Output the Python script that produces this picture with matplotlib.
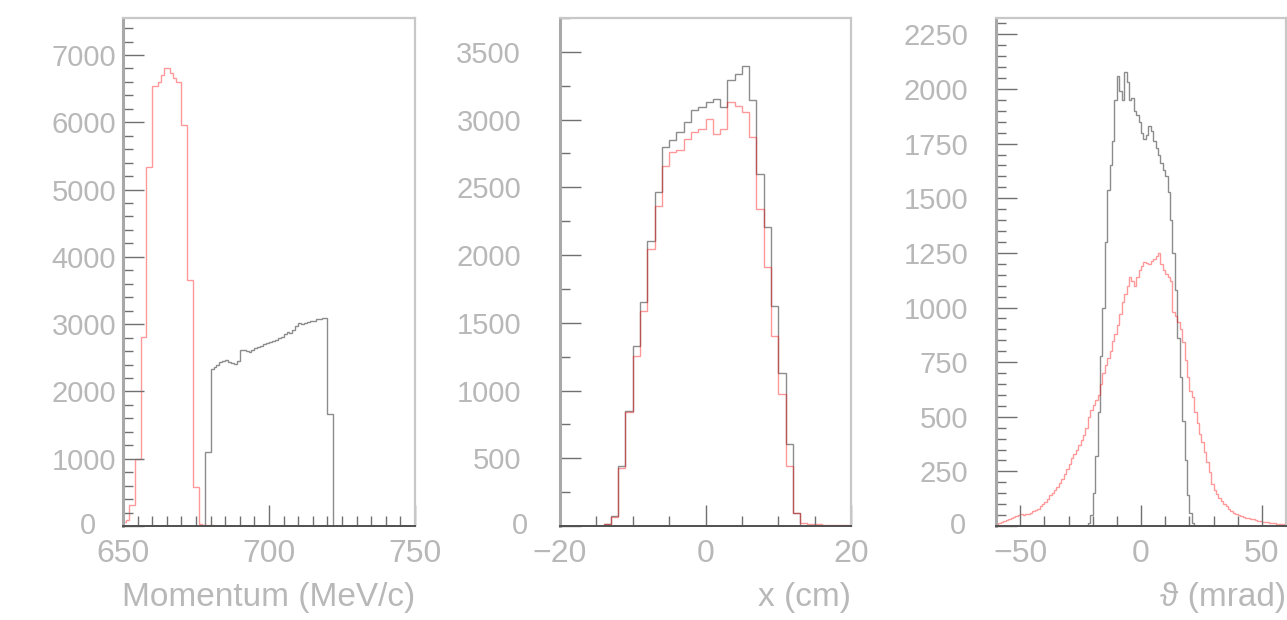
import numpy as np
import matplotlib
matplotlib.use("Agg")
import matplotlib.pyplot as plt
from matplotlib.ticker import MultipleLocator, FuncFormatter
from matplotlib.transforms import offset_copy

plt.rcParams["font.family"] = ["Liberation Sans", "DejaVu Sans"]

# momentum (MeV/c), 1 MeV bins 650..750
mom_edges = np.arange(650, 751, 1)
mom_red = ([60, 90, 310, 310, 990, 990, 2810, 2810, 5340, 5340,
            6540, 6540, 6600, 6700, 6810, 6800, 6730, 6660, 6600, 6600,
            5960, 5960, 3650, 3650, 580, 580,
            25, 15, 10, 10, 8, 6, 5, 4] + [0] * 66)
mom_black = ([0] * 28 + [1100, 1100,
             2340, 2360, 2390, 2430, 2450, 2470, 2430, 2420, 2410, 2450,
             2610, 2610, 2600, 2590, 2620, 2640, 2660, 2680, 2700, 2720,
             2730, 2750, 2770, 2790, 2810, 2850, 2890, 2870, 2920, 2970,
             3010, 3000, 3010, 3030, 3050, 3040, 3070, 3080, 3090, 3090,
             1670, 1670] + [0] * 28)

# x position (cm), 1 cm bins -20..20
x_edges = np.arange(-20, 21, 1)
x_black = ([0] * 6 + [15, 72, 440, 848, 1329, 1650, 2106, 2464, 2797, 2846,
           2908, 2981, 3068, 3090, 3129, 3154, 3092, 3289, 3339, 3396,
           3141, 2599, 2205, 1625, 1132, 602, 97] + [0] * 7)
x_red = ([0] * 6 + [15, 70, 430, 840, 1255, 1588, 2044, 2365, 2661, 2760,
         2772, 2858, 2908, 2930, 3001, 2895, 2932, 3129, 3104, 3055,
         2870, 2340, 1909, 1403, 972, 442, 97,
         25, 15, 12, 10, 8, 6, 5])

# theta (mrad), 1 mrad bins -60..60
th_edges = np.arange(-60, 61, 1)
th_black = ([0] * 38 + [15, 50, 150, 320, 520, 780, 1000, 1300, 1540, 1650,
            1760, 1950, 2060, 1990, 1950, 2080, 2030, 1950, 1960, 1900,
            1880, 1850, 1800, 1770, 1790, 1830, 1810, 1760, 1730, 1700,
            1660, 1630, 1600, 1530, 1400, 1250, 1080, 860, 680, 480,
            300, 140, 60, 15] + [0] * 38)
th_red = [10, 15, 20, 25, 28, 30, 35, 40, 45, 50,
          55, 52, 55, 56, 60, 68, 75, 80, 90, 100,
          112, 125, 140, 150, 165, 178, 195, 215, 240, 260,
          285, 310, 330, 350, 370, 395, 415, 450, 500, 530,
          555, 575, 600, 650, 700, 735, 770, 800, 845, 880,
          920, 970, 1025, 1060, 1100, 1140, 1120, 1100, 1140, 1170,
          1190, 1210, 1205, 1200, 1215, 1220, 1235, 1250, 1200, 1170,
          1155, 1140, 1120, 980, 960, 935, 900, 840, 760, 680,
          620, 590, 520, 470, 420, 385, 340, 295, 245, 190,
          165, 145, 130, 115, 100, 90, 80, 70, 60, 55,
          50, 45, 40, 38, 35, 32, 30, 27, 24, 22,
          20, 18, 17, 15, 14, 12, 10, 9, 8, 7]

TXT = "#b8b8b8"
RED = (1.0, 0.0, 0.0, 0.4)
BLK = (0.0, 0.0, 0.0, 0.45)


def style_axes(ax, xlim, ylim, xmaj, xmin, ymaj, ymin, label, ypad, zero_dx):
    ax.set_xlim(*xlim)
    ax.set_ylim(*ylim)
    ax.xaxis.set_major_locator(MultipleLocator(xmaj))
    ax.xaxis.set_minor_locator(MultipleLocator(xmin))
    ax.yaxis.set_major_locator(MultipleLocator(ymaj))
    ax.yaxis.set_minor_locator(MultipleLocator(ymin))
    # the y "0" is drawn by hand, shifted left so it clears the x labels
    ax.yaxis.set_major_formatter(
        FuncFormatter(lambda v, p: "" if v == 0 else "%d" % v))
    ax.tick_params(which="both", direction="in", top=False, right=False,
                   color="#707070", width=1.0, labelcolor=TXT)
    ax.tick_params(which="major", length=15)
    ax.tick_params(which="minor", length=7.5)
    ax.tick_params(axis="y", pad=ypad, labelsize=21)
    ax.tick_params(axis="x", pad=9, labelsize=23)
    ax.spines["left"].set_color("#a8a8a8")
    ax.spines["left"].set_linewidth(2.2)
    ax.spines["bottom"].set_color("#505050")
    ax.spines["bottom"].set_linewidth(1.4)
    for s in ("top", "right"):
        ax.spines[s].set_color("#c8c8c8")
        ax.spines[s].set_linewidth(1.6)
    tr = offset_copy(ax.get_yaxis_transform(), fig=ax.figure,
                     x=zero_dx, y=0, units="dots")
    ax.text(0, 0, "0", transform=tr, ha="right", va="center",
            color=TXT, fontsize=21)
    ax.set_xlabel(label, loc="right", color=TXT, fontsize=24, labelpad=10)


fig = plt.figure(figsize=(12.87, 6.2), dpi=100)
ax1 = fig.add_axes([123 / 1287, 94 / 620, 292 / 1287, 508 / 620])
ax2 = fig.add_axes([560 / 1287, 94 / 620, 291 / 1287, 508 / 620])
ax3 = fig.add_axes([996 / 1287, 94 / 620, 290 / 1287, 508 / 620])

ax1.stairs(mom_black, mom_edges, color=BLK, lw=1.0)
ax1.stairs(mom_red, mom_edges, color=RED, lw=1.0)
style_axes(ax1, (650, 750), (0, 7550), 50, 5, 1000, 200,
           "Momentum (MeV/c)", 5, -27)

ax2.stairs(x_black, x_edges, color=BLK, lw=1.0)
ax2.stairs(x_red, x_edges, color=RED, lw=1.0)
style_axes(ax2, (-20, 20), (0, 3750), 20, 5, 500, 250,
           "x (cm)", 28, -32)

ax3.stairs(th_black, th_edges, color=BLK, lw=1.0)
ax3.stairs(th_red, th_edges, color=RED, lw=1.0)
style_axes(ax3, (-60, 60), (0, 2325), 50, 10, 250, 50,
           "\u03d1 (mrad)", 20, -30)

fig.savefig("out.png", dpi=100)
